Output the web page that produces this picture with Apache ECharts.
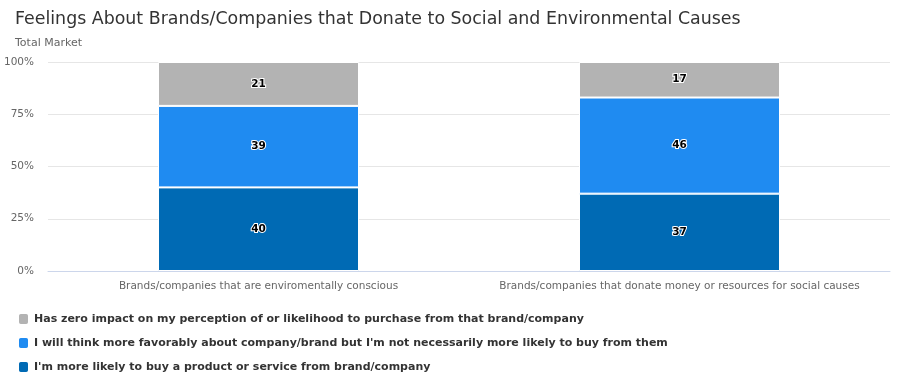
<!DOCTYPE html>
<html><head><meta charset="utf-8">
<script src="https://cdn.jsdelivr.net/npm/echarts@6/dist/echarts.min.js"></script>
<style>html,body{margin:0;padding:0;background:#fff}#c{width:903px;height:386px}</style>
</head><body><div id="c"></div>
<script>
const categories = ["Brands/companies that are enviromentally conscious", "Brands/companies that donate money or resources for social causes"];
const seriesNames = [
  "I'm more likely to buy a product or service from brand/company",
  "I will think more favorably about company/brand but I'm not necessarily more likely to buy from them",
  "Has zero impact on my perception of or likelihood to purchase from that brand/company"
];
const moreLikely = [40, 37];
const favorably = [39, 46];
const zeroImpact = [21, 17];
const yTicks = [0, 25, 50, 75, 100];

const colors = ['#006ab4', '#1f8bf1', '#b3b3b3'];
const values = [moreLikely, favorably, zeroImpact];
const font = '"DejaVu Sans", Verdana, sans-serif';
const legendOrder = [2, 1, 0];
const chart = echarts.init(document.getElementById('c'), null, {renderer: 'canvas'});
chart.setOption({
  animation: false,
  title: {
    text: 'Feelings About Brands/Companies that Donate to Social and Environmental Causes',
    subtext: 'Total Market',
    left: 10, top: 6,
    textStyle: {fontFamily: font, fontSize: 17.4, fontWeight: 'normal', color: '#333'},
    subtextStyle: {fontFamily: font, fontSize: 11, color: '#666'},
    itemGap: 10
  },
  legend: legendOrder.map((si, k) => ({
    orient: 'vertical', left: 17, top: 312 + k * 24, padding: 0,
    itemWidth: 11, itemHeight: 12, itemGap: 0,
    icon: 'roundRect',
    data: [seriesNames[si]],
    textStyle: {fontFamily: font, fontSize: 11, fontWeight: 'bold', color: '#333'}
  })),
  grid: {left: 48, right: 13, top: 62, bottom: 115},
  xAxis: {
    type: 'category', data: categories,
    axisLine: {lineStyle: {color: '#ccd6eb'}},
    axisTick: {show: false},
    axisLabel: {interval: 0, fontFamily: font, fontSize: 10.5, color: '#666', margin: 10}
  },
  yAxis: {
    type: 'value', min: 0, max: 100, interval: 25,
    axisLabel: {formatter: v => yTicks.includes(v) ? v + '%' : '', fontFamily: font, fontSize: 10.5, color: '#666', margin: 14},
    splitLine: {lineStyle: {color: '#e6e6e6'}},
    axisLine: {show: false}, axisTick: {show: false}
  },
  series: values.map((d, i) => ({
    name: seriesNames[i], type: 'bar', stack: 'total', data: d, barWidth: 201,
    itemStyle: {color: colors[i], borderColor: '#fff', borderWidth: 1},
    label: {show: true, position: 'inside', fontFamily: font, fontSize: 10.5, fontWeight: 'bold', color: '#000', textBorderColor: '#fff', textBorderWidth: 2}
  }))
});
</script></body></html>
